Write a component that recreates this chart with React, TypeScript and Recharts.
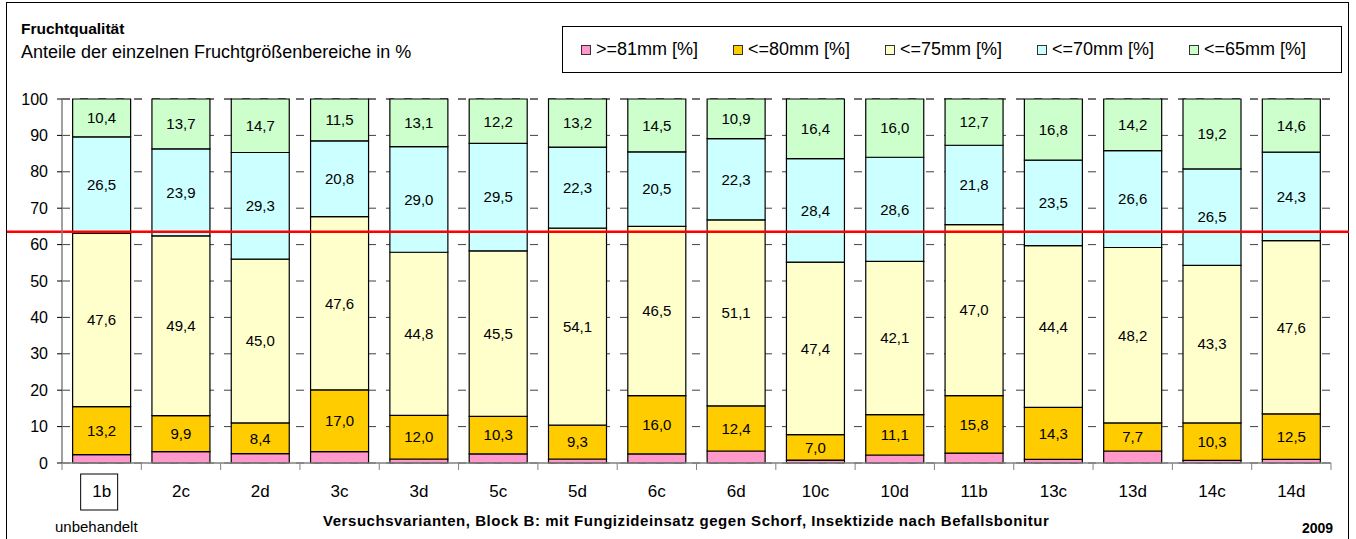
import React from "react";
import {
  BarChart,
  Bar,
  XAxis,
  YAxis,
  CartesianGrid,
  ReferenceLine,
  LabelList,
} from "recharts";

const CATEGORIES = ["1b", "2c", "2d", "3c", "3d", "5c", "5d", "6c", "6d", "10c", "10d", "11b", "13c", "13d", "14c", "14d"];
const GE81 = [2.3, 3.1, 2.6, 3.1, 1.1, 2.5, 1.1, 2.5, 3.3, 0.8, 2.2, 2.7, 1.0, 3.3, 0.7, 1.0];
const LE80 = [13.2, 9.9, 8.4, 17.0, 12.0, 10.3, 9.3, 16.0, 12.4, 7.0, 11.1, 15.8, 14.3, 7.7, 10.3, 12.5];
const LE75 = [47.6, 49.4, 45.0, 47.6, 44.8, 45.5, 54.1, 46.5, 51.1, 47.4, 42.1, 47.0, 44.4, 48.2, 43.3, 47.6];
const LE70 = [26.5, 23.9, 29.3, 20.8, 29.0, 29.5, 22.3, 20.5, 22.3, 28.4, 28.6, 21.8, 23.5, 26.6, 26.5, 24.3];
const LE65 = [10.4, 13.7, 14.7, 11.5, 13.1, 12.2, 13.2, 14.5, 10.9, 16.4, 16.0, 12.7, 16.8, 14.2, 19.2, 14.6];
const Y_TICKS = [0, 10, 20, 30, 40, 50, 60, 70, 80, 90, 100];
const THRESHOLD = 63.5;

const SERIES = [
  { key: "ge81", name: ">=81mm [%]", color: "#FF99CC", label: false },
  { key: "le80", name: "<=80mm [%]", color: "#FFCC00", label: true },
  { key: "le75", name: "<=75mm [%]", color: "#FFFFCC", label: true },
  { key: "le70", name: "<=70mm [%]", color: "#CCFFFF", label: true },
  { key: "le65", name: "<=65mm [%]", color: "#CCFFCC", label: true },
];

const data = CATEGORIES.map((c, i) => ({
  name: c,
  ge81: GE81[i],
  le80: LE80[i],
  le75: LE75[i],
  le70: LE70[i],
  le65: LE65[i],
}));

const FONT = "'Liberation Sans', Arial, sans-serif";
const fmt = (v: any) => Number(v).toFixed(1).replace(".", ",");

function XTick(props: any) {
  const { x, y, payload, index, width } = props;
  const band = (width || 1269) / CATEGORIES.length;
  const left = x - band / 2;
  const isLast = index === CATEGORIES.length - 1;
  return (
    <g>
      <line x1={left} y1={y - 8} x2={left} y2={y - 1} stroke="#808080" strokeWidth={1} />
      {isLast && <line x1={x + band / 2} y1={y - 8} x2={x + band / 2} y2={y - 1} stroke="#808080" strokeWidth={1} />}
      {index === 0 && <rect x={x - 21} y={y + 3} width={37} height={36} fill="none" stroke="#000" strokeWidth={1} />}
      <text x={x} y={y + 26} textAnchor="middle" fontSize={17} fontFamily={FONT} fill="#000">
        {payload.value}
      </text>
    </g>
  );
}

function LegendBox() {
  return (
    <div
      style={{
        position: "absolute",
        left: 562,
        top: 26,
        width: 780,
        height: 47,
        border: "1px solid #000",
        boxSizing: "border-box",
        display: "flex",
        alignItems: "center",
        fontFamily: FONT,
        fontSize: 18,
        paddingLeft: 18,
      }}
    >
      {SERIES.map((s) => (
        <div key={s.key} style={{ display: "flex", alignItems: "center", width: 155 }}>
          <span
            style={{
              display: "inline-block",
              width: 8,
              height: 8,
              background: s.color,
              border: "1px solid #333",
              marginRight: 5,
            }}
          />
          <span>{s.name}</span>
        </div>
      ))}
    </div>
  );
}

function RedLine(props: any) {
  const { y1 } = props;
  return <line x1={7} y1={y1} x2={1349} y2={y1} stroke="#FF0000" strokeWidth={2.5} />;
}

export default function App() {
  return (
    <div style={{ position: "absolute", left: 0, top: 0, width: 1356, height: 539, overflow: "hidden", background: "#fff", fontFamily: FONT }}>
      <div style={{ position: "absolute", left: 6, top: 2, width: 1343, height: 600, border: "1px solid #000", boxSizing: "border-box" }} />
      <div style={{ position: "absolute", left: 21, top: 20, fontSize: 15.5, fontWeight: "bold" }}>Fruchtqualität</div>
      <div style={{ position: "absolute", left: 21, top: 42, fontSize: 18 }}>Anteile der einzelnen Fruchtgrößenbereiche in %</div>
      <LegendBox />
      <BarChart
        width={1356}
        height={539}
        data={data}
        margin={{ top: 99, right: 25, bottom: 0, left: 0 }}
        barCategoryGap="13.4%"
        style={{ position: "absolute", left: 0, top: 0 }}
      >
        <CartesianGrid vertical={false} stroke="#404040" strokeDasharray="8 10" />
        <YAxis
          width={62}
          domain={[0, 100]}
          ticks={Y_TICKS}
          interval={0}
          tick={{ fontSize: 16, fill: "#000", fontFamily: FONT }}
          tickSize={5}
          tickMargin={9}
          tickLine={{ stroke: "#000" }}
          axisLine={{ stroke: "#808080", strokeWidth: 1.5 }}
        />
        <XAxis
          dataKey="name"
          height={76}
          interval={0}
          tickLine={false}
          axisLine={{ stroke: "#808080", strokeWidth: 1.5 }}
          tick={<XTick />}
        />
        {SERIES.map((s) => (
          <Bar
            key={s.key}
            dataKey={s.key}
            name={s.name}
            stackId="a"
            fill={s.color}
            stroke="#000"
            strokeWidth={1.2}
            isAnimationActive={false}
          >
            {s.label && (
              <LabelList
                dataKey={s.key}
                position="center"
                formatter={fmt}
                fontSize={15}
                fontFamily={FONT}
                fill="#000"
              />
            )}
          </Bar>
        ))}
        <ReferenceLine y={THRESHOLD} shape={<RedLine />} />
      </BarChart>
      <div style={{ position: "absolute", left: 55, top: 518, fontSize: 15 }}>unbehandelt</div>
      <div style={{ position: "absolute", left: 323, top: 512, fontSize: 15, fontWeight: "bold", letterSpacing: 0.55, whiteSpace: "nowrap" }}>
        Versuchsvarianten, Block B: mit Fungizideinsatz gegen Schorf, Insektizide nach Befallsbonitur
      </div>
      <div style={{ position: "absolute", left: 1302, top: 520, fontSize: 14, fontWeight: "bold" }}>2009</div>
    </div>
  );
}
